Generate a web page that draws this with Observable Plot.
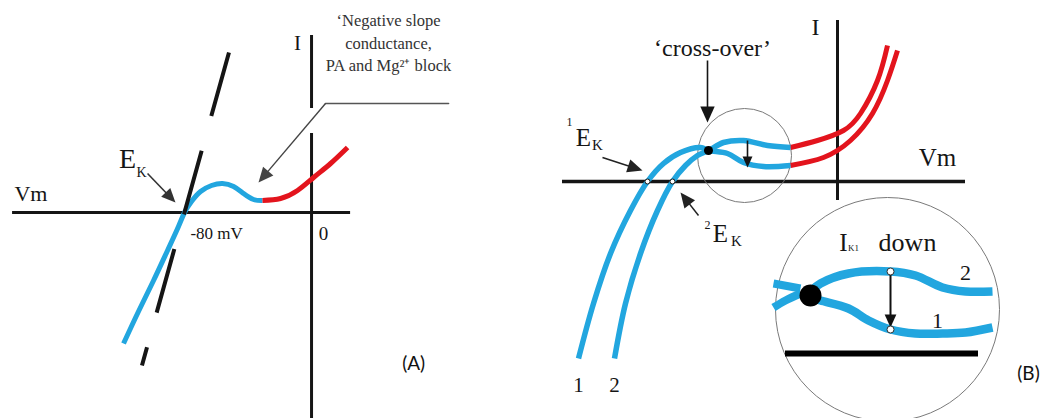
<!DOCTYPE html>
<html>
<head>
<meta charset="utf-8">
<script src="https://cdn.jsdelivr.net/npm/d3@7"></script>
<script src="https://cdn.jsdelivr.net/npm/@observablehq/plot@0.6"></script>
<style>
  body { margin: 0; background: #fff; }
  #fig { display: flex; width: 1046px; height: 418px; overflow: hidden; }
  #fig svg { flex: none; }
</style>
</head>
<body>
<div id="fig"></div>
<script>
// ---------- Panel A: Kir I–V relation, reversal at E_K = -80 mV ----------
// membrane potential (mV) and current (arbitrary units)
const kirInwardV = [-118.4, -109.0, -99.5, -90.7, -83.8, -80, -75.6, -69.9, -63.0, -56.1, -49.1, -42.8, -36.5, -30.9];
const kirInwardI = [-131, -99, -68, -38, -14, 0, 11, 21, 27, 29, 26, 19, 13, 12];
const kirBlockV = [-30.9, -19.5, -8.8, 1.3, 12.0, 22.7];
const kirBlockI = [12, 14, 22, 35, 49, 65];
const chordV = [-52.0, -106.8];          // open-channel conductance line through E_K
const chordI = [160, -153];
const vmAxisA = [-188.3, 24.6];
const iAxisA = [[104, 177], [-206, 79]];   // I axis, broken where the callout passes
const calloutV = [86.3, 8.8, -33.4];
const calloutI = [109, 109, 30];
const ekArrowA = {v1: -103.3, i1: 39, v2: -85.7, i2: 10};
const noteLines = ["‘Negative slope", "conductance,", "PA and Mg²⁺ block"];
const noteI = [192, 169, 147];

// ---------- Panel B: two Kir I–V curves (1, 2) with shifted E_K ----------
const curve1V = [-259, -244, -227, -207, -190, -174, -157, -137, -129, -110, -94, -74, -47];
const curve1I = [-177, -122, -72, -29, 0, 18, 29, 34, 31, 28, 19, 15, 16];
const curve2V = [-223, -212, -197, -180, -165, -152, -140, -129, -114, -94, -70, -47];
const curve2I = [-177, -122, -72, -29, 0, 16, 26, 31, 39, 41, 36, 34];
const curve1RedV = [-47, -14, 13, 35, 50, 60];
const curve1RedI = [16, 24, 41, 68, 101, 131];
const curve2RedV = [-47, -20, 6, 23, 40, 50];
const curve2RedI = [34, 41, 51, 68, 101, 136];
const ekCrossV = [-190, -165];             // ¹E_K and ²E_K
const crossover = {v: -129, i: 31};
const vmAxisB = [-275, 128];
const iAxisB = [-19, 161];
const lensSmall = {v: -93, i: 26};
const lensBig = {v: 50, i: -128};

// magnified view inside the large circle
const zoom2V = [-27, -17, 11, 53, 78, 105, 128, 155];
const zoom2I = [-110, -102, -92, -90, -94, -106, -110, -110];
const zoom1V = [-27, -17, 11, 31, 53, 78, 105, 128, 155];
const zoom1I = [-116, -119, -127, -139, -148, -152, -152, -151, -146];
const stubUpperV = [-64, -37];
const stubUpperI = [-102, -107];
const stubLowerV = [-64, -52, -37];
const stubLowerI = [-126, -119, -112];
const zoomDot = {v: -27, i: -114};
const zoomShiftV = 53;
const zoomShiftI = [-90, -148];
const zoomBaseV = [-52, 141];
const zoomBaseI = -172;

const BLUE = "#22a6df", RED = "#e3141d", INK = "#151515", GREY = "#7a7a7a";
const SERIF = "Liberation Serif";
const SANS = "Lato";

const pts = (vs, is) => vs.map((v, k) => ({v, i: Array.isArray(is) ? is[k] : is}));

// filled arrowhead; tip at the anchor point, pointing up before rotation
const arrowHead = {
  draw(ctx, size) {
    const r = Math.sqrt(size / Math.PI);
    ctx.moveTo(0, 0);
    ctx.lineTo(-0.45 * r, r);
    ctx.lineTo(0.45 * r, r);
    ctx.closePath();
  }
};

function arrowMarks(list, kx, ky, {stroke = INK, strokeWidth = 1.5, head = 14} = {}) {
  const rows = list.map(a => {
    const sx = (a.v2 - a.v1) * kx, sy = -(a.i2 - a.i1) * ky;
    const back = (head * 0.6) / Math.hypot(sx, sy);
    return {
      ...a,
      ve: a.v2 - (a.v2 - a.v1) * back,
      ie: a.i2 - (a.i2 - a.i1) * back,
      angle: Math.atan2(sx, -sy) * 180 / Math.PI
    };
  });
  return [
    Plot.link(rows, {x1: "v1", y1: "i1", x2: "ve", y2: "ie", stroke, strokeWidth}),
    Plot.dot(rows, {x: "v2", y: "i2", r: head, symbol: arrowHead, rotate: "angle", fill: stroke, stroke: "none"})
  ];
}

// serif label helper
const label = (text, opts) => Plot.text([text], {fontFamily: SERIF, fill: INK, ...opts});

const W = 523, H = 418;

// ----- Panel A -----
const domA = [-195.9, 133.5];
const kxA = W / (domA[1] - domA[0]);
const plotA = Plot.plot({
  width: W, height: H, margin: 0,
  x: {domain: domA, range: [0, W], axis: null},
  y: {domain: [212, -206], range: [0, H], axis: null},
  r: {type: "identity"},
  style: {background: "transparent", fontFamily: SERIF, overflow: "hidden"},
  marks: [
    Plot.ruleY([0], {x1: vmAxisA[0], x2: vmAxisA[1], stroke: INK, strokeWidth: 3}),
    Plot.ruleX(iAxisA, {x: () => 0, y1: d => d[0], y2: d => d[1], stroke: INK, strokeWidth: 3}),
    Plot.line(pts(kirInwardV, kirInwardI), {x: "v", y: "i", curve: "natural", stroke: BLUE, strokeWidth: 5, strokeLinecap: "butt"}),
    Plot.line(pts(kirBlockV, kirBlockI), {x: "v", y: "i", curve: "natural", stroke: RED, strokeWidth: 5, strokeLinecap: "butt"}),
    Plot.line(pts(chordV, chordI), {x: "v", y: "i", stroke: INK, strokeWidth: 4, strokeDasharray: "66,36", strokeLinecap: "butt"}),
    Plot.line(pts(calloutV.slice(0, 2), calloutI.slice(0, 2)), {x: "v", y: "i", stroke: "#555", strokeWidth: 1.6}),
    ...arrowMarks([{v1: calloutV[1], i1: calloutI[1], v2: calloutV[2], i2: calloutI[2]}], kxA, 1, {stroke: "#444", strokeWidth: 1.4, head: 15}),
    ...arrowMarks([ekArrowA], kxA, 1, {stroke: "#333", strokeWidth: 1.6, head: 14}),
    label("Vm", {x: -187.1, y: 19, textAnchor: "start", fontSize: 22}),
    label("I", {x: -8.8, y: 169, fontSize: 21}),
    label("E", {x: -115.9, y: 53, fontSize: 28}),
    label("K", {x: -107.1, y: 40, fontSize: 14}),
    label("-80 mV", {x: ekArrowA.v2 + 25.9, y: -21, fontSize: 17}),
    label("0", {x: 7.6, y: -21, fontSize: 19}),
    Plot.text(noteLines, {x: 48.5, y: (d, k) => noteI[k], fontSize: 16.5, fontFamily: SERIF, fill: "#333"}),
    Plot.text(["(A)"], {x: 64.3, y: -151, fontSize: 19, fontFamily: SANS, fill: "#111"})
  ]
});

// ----- Panel B -----
const plotB = Plot.plot({
  width: W, height: H, margin: 0,
  x: {domain: [-314, 209], range: [0, W], axis: null},
  y: {domain: [181, -237], range: [0, H], axis: null},
  r: {type: "identity"},
  style: {background: "transparent", fontFamily: SERIF, overflow: "hidden"},
  marks: [
    Plot.ruleY([0], {x1: vmAxisB[0], x2: vmAxisB[1], stroke: INK, strokeWidth: 3.5}),
    Plot.ruleX([0], {y1: iAxisB[0], y2: iAxisB[1], stroke: INK, strokeWidth: 3}),
    Plot.dot([lensSmall], {x: "v", y: "i", r: 47, fill: "none", stroke: GREY, strokeWidth: 1}),
    Plot.line(pts(curve1RedV, curve1RedI), {x: "v", y: "i", curve: "natural", stroke: RED, strokeWidth: 5, strokeLinecap: "butt"}),
    Plot.line(pts(curve2RedV, curve2RedI), {x: "v", y: "i", curve: "natural", stroke: RED, strokeWidth: 5, strokeLinecap: "butt"}),
    Plot.line(pts(curve1V, curve1I), {x: "v", y: "i", curve: "catmull-rom", stroke: BLUE, strokeWidth: 5.5, strokeLinecap: "butt"}),
    Plot.line(pts(curve2V, curve2I), {x: "v", y: "i", curve: "catmull-rom", stroke: BLUE, strokeWidth: 5.5, strokeLinecap: "butt"}),
    Plot.dot(pts(ekCrossV, 0), {x: "v", y: "i", r: 2.5, fill: "#fff", stroke: INK, strokeWidth: 1}),
    Plot.dot([crossover], {x: "v", y: "i", r: 4.5, fill: "#000"}),
    ...arrowMarks([{v1: crossover.v - 1, i1: 121, v2: crossover.v - 1, i2: 59}], 1, 1, {strokeWidth: 1.6, head: 16}),
    ...arrowMarks([{v1: -90, i1: 41, v2: -90, i2: 14}], 1, 1, {strokeWidth: 1.6, head: 11}),
    ...arrowMarks([{v1: -235, i1: 24, v2: ekCrossV[0] - 5, i2: 11}], 1, 1, {stroke: "#222", strokeWidth: 1.5, head: 15}),
    ...arrowMarks([{v1: -139, i1: -34, v2: ekCrossV[1] + 8, i2: -11}], 1, 1, {stroke: "#222", strokeWidth: 1.5, head: 15}),

    // magnified crossover
    Plot.dot([lensBig], {x: "v", y: "i", r: 112, fill: "#fff", stroke: GREY, strokeWidth: 1}),
    Plot.line(pts(stubUpperV, stubUpperI), {x: "v", y: "i", stroke: BLUE, strokeWidth: 8, strokeLinecap: "butt"}),
    Plot.line(pts(stubLowerV, stubLowerI), {x: "v", y: "i", curve: "catmull-rom", stroke: BLUE, strokeWidth: 8, strokeLinecap: "butt"}),
    Plot.line(pts(zoom2V, zoom2I), {x: "v", y: "i", curve: "catmull-rom", stroke: BLUE, strokeWidth: 8.5, strokeLinecap: "butt"}),
    Plot.line(pts(zoom1V, zoom1I), {x: "v", y: "i", curve: "catmull-rom", stroke: BLUE, strokeWidth: 8.5, strokeLinecap: "butt"}),
    Plot.dot([zoomDot], {x: "v", y: "i", r: 11, fill: "#000"}),
    Plot.ruleY([zoomBaseI], {x1: zoomBaseV[0], x2: zoomBaseV[1], stroke: "#000", strokeWidth: 6}),
    ...arrowMarks([{v1: zoomShiftV, i1: zoomShiftI[0], v2: zoomShiftV, i2: zoomShiftI[1] + 2}], 1, 1, {stroke: "#111", strokeWidth: 2, head: 13}),
    Plot.dot(pts([zoomShiftV, zoomShiftV], zoomShiftI), {x: "v", y: "i", r: 3.5, fill: "#fff", stroke: "#333", strokeWidth: 1}),

    // labels
    label("I", {x: -22, y: 154, fontSize: 24}),
    label("Vm", {x: 100, y: 24, fontSize: 25}),
    label("‘cross-over’", {x: -125, y: 133, fontSize: 24}),
    label("1", {x: -268, y: 59, fontSize: 12}),
    label("E", {x: -254, y: 44, fontSize: 25}),
    label("K", {x: -240, y: 36, fontSize: 15}),
    label("2", {x: -130, y: -44, fontSize: 12}),
    label("E", {x: -117, y: -52, fontSize: 25}),
    label("K", {x: -101, y: -60, fontSize: 15}),
    Plot.text(["1", "2"], {x: (d, k) => [curve1V[0], curve2V[0]][k], y: -204, fontSize: 21, fontFamily: SERIF, fill: INK}),
    label("I", {x: 6, y: -61, fontSize: 25}),
    label("K1", {x: 16, y: -67, fontSize: 9}),
    label("down", {x: 70, y: -61, fontSize: 26}),
    label("2", {x: 128, y: -91, fontSize: 22}),
    label("1", {x: 100, y: -139, fontSize: 22}),
    Plot.text(["(B)"], {x: 191, y: -192, fontSize: 19, fontFamily: SANS, fill: "#111"})
  ]
});

document.getElementById("fig").append(plotA, plotB);
</script>
</body>
</html>
